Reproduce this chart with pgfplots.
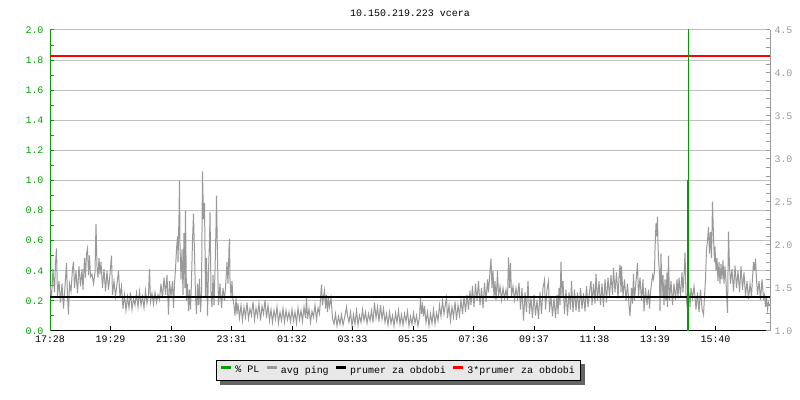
\documentclass[border=0pt]{standalone}
\usepackage{pgfplots}
\pgfplotsset{compat=1.18}
\usepackage{fontspec}
\setmainfont{Liberation Mono}
\pgfdeclarelayer{background}
\pgfsetlayers{background,main}
\definecolor{plgreen}{RGB}{0,160,0}
\definecolor{pinggray}{RGB}{153,153,153}
\definecolor{gridgray}{RGB}{192,192,192}
\definecolor{legfill}{RGB}{232,232,232}
\definecolor{shadowgray}{RGB}{100,100,100}
\definecolor{limitred}{RGB}{255,0,0}

\begin{document}
\begin{tikzpicture}[font=\fontsize{10}{12}\selectfont]
\useasboundingbox (0,0) rectangle (800bp,400bp);
\pgfplotsset{every axis/.append style={
    scale only axis, width=720bp, height=301bp,
    at={(50bp,69bp)}, anchor=south west,
    xmin=0, xmax=1440,
    tick align=inside, major tick length=4.5bp, minor tick length=4bp,
    /pgf/number format/assume math mode=true,
    yticklabel style={/pgf/number format/fixed, /pgf/number format/fixed zerofill,
        /pgf/number format/precision=1}}}

% left scale: % PL, grid, time axis
\begin{axis}[
    ymin=0, ymax=2,
    axis x line*=bottom, axis y line*=left,
    x axis line style={black, line width=1bp},
    y axis line style={plgreen, line width=1bp},
    xtick={0,121,242,363,484,605,726,847,968,1089,1210,1331},
    xticklabels={17:28,19:29,21:30,23:31,01:32,03:33,05:35,07:36,09:37,11:38,13:39,15:40},
    x tick style={black, line width=1bp},
    xticklabel style={yshift=-1.5bp},
    ytick={0,0.2,0.4,0.6,0.8,1.0,1.2,1.4,1.6,1.8,2.0},
    minor y tick num=1,
    y tick style={plgreen, line width=1bp},
    yticklabel style={text=plgreen, xshift=-3bp},
    ymajorgrids, grid style={gridgray, line width=1bp},
]
\end{axis}

% right scale: avg ping
\begin{axis}[
    ymin=1, ymax=4.5,
    axis y line*=right, axis x line=none,
    y axis line style={pinggray, line width=1bp},
    ytick={1,1.5,2,2.5,3,3.5,4,4.5},
    minor y tick num=4,
    y tick style={pinggray, line width=1bp},
    yticklabel style={text=pinggray, xshift=1bp},
    legend columns=4,
    legend cell align=left,
    legend image code/.code={\draw[line width=2.5bp] (0bp,3bp) -- (10bp,3bp);},
    legend style={name=leg, at={(0.484,-0.131)}, anchor=center, draw=black, line width=1bp,
        fill=legfill, inner sep=4bp,
        /tikz/every odd column/.append style={column sep=1bp},
        /tikz/every even column/.append style={column sep=4bp}},
]
\addlegendimage{plgreen}
\addlegendentry{\% PL}
\addplot[pinggray, line width=1bp] coordinates {
(0,1.52) (3,1.38) (6,1.72) (9,1.45) (11,1.79) (13,1.96) (15,1.40)
(18,1.58) (21,1.33) (24,1.55) (27,1.26) (30,1.52) (33,1.79) (35,1.40) (37,1.19) (39,1.55)
(42,1.46) (45,1.72) (47,1.805) (49,1.50) (52,1.70) (55,1.44) (58,1.75) (61,1.52) (64,1.72) (66,1.48)
(69,1.85) (71,1.62) (73,1.90) (75,1.96) (77,1.65) (79,1.88) (81,1.63)
(84,1.66) (87,1.55) (90,1.68) (92,2.24)
(94,1.75) (96,1.62) (98,1.85) (100,1.66) (102,1.80)
(105,1.50) (108,1.72) (111,1.46) (114,1.70) (117,1.48) (120,1.66) (123,1.875)
(125,1.42) (128,1.58) (131,1.40) (134,1.55) (137,1.70) (140,1.39) (143,1.52)
(146,1.26) (149,1.42) (152,1.24) (155,1.40) (158,1.27) (161,1.45) (164,1.25) (167,1.38) (170,1.30)
(173,1.44) (176,1.28) (179,1.46) (182,1.30) (185,1.40) (188,1.27) (191,1.47) (194,1.32) (197,1.42) (199,1.72)
(201,1.34) (204,1.44) (207,1.31) (210,1.45) (213,1.33) (216,1.42) (219,1.36)
(222,1.55) (225,1.38) (228,1.62) (231,1.42) (234,1.65) (237,1.19) (239,1.58)
(242,1.40) (245,1.58) (247,1.27) (249,1.55)
(251,1.72) (253,1.95) (255,2.10) (256,1.80) (258,2.35) (259,2.75) (260,2.00)
(262,1.60) (264,1.95) (266,1.42) (268,2.14) (270,1.50) (271,2.40)
(273,1.35) (275,1.55) (277,1.23) (279,1.48) (281,1.25) (283,1.58)
(285,2.05) (287,2.365) (289,1.90)
(291,1.40) (293,1.20) (295,1.55) (297,1.30) (299,1.61) (301,1.22) (303,1.45)
(305,2.855) (307,2.30) (309,2.49)
(311,1.40) (313,1.85) (315,1.18) (317,1.70) (319,2.05) (320,2.38)
(322,1.45) (324,1.28) (326,1.65) (328,1.30) (330,1.70)
(332,2.20) (333,2.575) (335,1.85)
(337,1.30) (340,1.55) (343,1.27) (346,1.50) (349,1.35) (352,1.60)
(354,1.80) (356,1.55) (358,1.95) (359,2.07) (360,1.60)
(362,1.40) (364,1.58) (366,1.36)
(368,1.30) (370,1.18) (372,1.38) (374,1.20) (376,1.32)
(379,1.15) (382,1.30) (385,1.12) (388,1.28) (391,1.16) (394,1.33) (397,1.14) (400,1.26) (403,1.18) (406,1.34)
(409,1.13) (412,1.27) (415,1.17) (418,1.32) (421,1.12) (424,1.29) (427,1.20) (430,1.36) (433,1.15) (436,1.30)
(439,1.12) (442,1.25) (445,1.10) (448,1.24) (451,1.14) (454,1.28) (457,1.09) (460,1.22) (463,1.12) (466,1.26)
(469,1.10) (472,1.24) (475,1.13) (478,1.22)
(481,1.11) (484,1.25) (487,1.12) (490,1.22) (493,1.09) (496,1.27) (499,1.13) (502,1.24) (505,1.11) (508,1.28)
(511,1.15) (513,1.385) (515,1.14) (518,1.26) (521,1.10) (524,1.23) (527,1.16) (530,1.30) (533,1.13) (536,1.27)
(539,1.20) (541,1.38) (543,1.54) (545,1.30) (547,1.40) (549,1.47) (551,1.26) (553,1.42) (555,1.22) (557,1.385) (559,1.28) (562,1.385)
(565,1.15) (568,1.08) (571,1.20) (574,1.06) (577,1.17) (580,1.08) (583,1.19) (586,1.07) (589,1.15)
(591,1.21) (593,1.28) (595,1.18)
(598,1.10) (601,1.22) (604,1.06) (607,1.19) (610,1.08) (613,1.24) (616,1.07) (619,1.18) (622,1.10)
(625,1.25) (628,1.12) (631,1.22) (634,1.09) (637,1.20) (640,1.12) (643,1.24) (646,1.10)
(649,1.33) (652,1.15) (655,1.28) (658,1.11) (661,1.30) (664,1.14) (667,1.26) (670,1.10)
(673,1.20) (676,1.07) (679,1.22) (682,1.09) (685,1.18) (688,1.06) (691,1.21) (694,1.10) (697,1.24) (700,1.08)
(703,1.19) (706,1.07) (709,1.20) (712,1.11) (715,1.23) (718,1.06) (721,1.17) (724,1.08) (727,1.21) (730,1.09)
(733,1.18) (736,1.06) (739,1.16)
(741,1.385) (743,1.20) (745,1.30) (747,1.17) (749,1.29)
(752,1.10) (755,1.22) (758,1.06) (761,1.20) (764,1.09) (767,1.25) (770,1.08) (773,1.21) (776,1.12)
(779,1.30) (782,1.17) (785,1.35) (788,1.20) (791,1.32) (793,1.385)
(795,1.15) (798,1.30) (801,1.12) (804,1.28) (807,1.16) (810,1.34) (813,1.13) (816,1.30) (819,1.18)
(822,1.36) (825,1.20) (828,1.40) (831,1.22) (834,1.42) (837,1.25) (840,1.47)
(842,1.30) (845,1.52) (848,1.28) (851,1.55) (854,1.35) (857,1.58) (860,1.30) (863,1.50) (866,1.27) (869,1.56) (872,1.34) (875,1.60)
(877,1.45) (880,1.70) (882,1.84) (884,1.50) (886,1.70)
(888,1.38) (890,1.58) (892,1.36) (894,1.55) (895,1.70) (897,1.40)
(900,1.52) (903,1.36) (906,1.50) (909,1.38) (912,1.48) (915,1.36)
(917,1.855) (919,1.50) (921,1.79)
(923,1.40) (926,1.52) (929,1.36) (932,1.50) (935,1.38)
(938,1.56) (941,1.25) (944,1.50) (947,1.12) (950,1.45) (953,1.22) (956,1.58) (959,1.20)
(962,1.38) (965,1.15) (968,1.42) (971,1.18) (974,1.36) (977,1.14)
(980,1.45) (983,1.20) (986,1.50) (989,1.595) (991,1.25) (994,1.48) (997,1.58) (999,1.22)
(1002,1.40) (1005,1.17) (1008,1.38) (1011,1.15) (1014,1.42) (1016,1.20)
(1018,1.50) (1020,1.30) (1022,1.805) (1024,1.40) (1026,1.58)
(1029,1.20) (1032,1.48) (1035,1.18) (1038,1.45) (1041,1.25) (1043,1.58) (1046,1.22) (1049,1.48)
(1052,1.24) (1055,1.45) (1058,1.22) (1061,1.50) (1064,1.26) (1067,1.44) (1070,1.23) (1073,1.52) (1076,1.28) (1079,1.46) (1082,1.58)
(1084,1.30) (1087,1.55) (1090,1.32) (1092,1.665) (1095,1.35) (1098,1.58) (1101,1.30) (1104,1.55) (1107,1.28) (1110,1.60) (1113,1.33)
(1116,1.62) (1119,1.40) (1122,1.65) (1125,1.42) (1127,1.735) (1130,1.45) (1133,1.68) (1136,1.38) (1138,1.62) (1140,1.77)
(1142,1.45) (1143,1.75) (1146,1.40) (1149,1.60)
(1152,1.35) (1155,1.55) (1158,1.30) (1160,1.175) (1163,1.50) (1165,1.32) (1167,1.665) (1169,1.35)
(1172,1.58) (1175,1.79) (1177,1.40) (1180,1.62) (1183,1.35) (1186,1.60) (1188,1.23) (1191,1.50) (1194,1.30) (1197,1.48)
(1199,1.26) (1201,1.45) (1203,1.55) (1205,1.65) (1207,1.60) (1209,1.70)
(1210,1.95) (1212,2.25) (1213,2.10) (1215,2.33) (1216,2.00)
(1217,1.85) (1219,1.65) (1220,1.23) (1222,1.90)
(1224,1.40) (1226,1.65) (1228,1.30) (1230,1.60) (1232,1.35) (1234,1.68) (1235,1.28) (1237,1.875)
(1239,1.35) (1242,1.58) (1245,1.30) (1248,1.55) (1251,1.36) (1254,1.60) (1256,1.38)
(1258,1.62) (1261,1.40) (1264,1.68) (1266,1.45) (1268,1.65) (1270,1.91) (1272,1.42)
(1274,1.30) (1276,1.21) (1278,1.45) (1280,1.28)
(1282,1.50) (1285,1.38) (1288,1.52) (1290,1.40)
(1292,1.25) (1295,1.45) (1298,1.22) (1301,1.48) (1304,1.26) (1307,1.19) (1309,1.40)
(1311,1.60) (1313,1.95) (1315,2.05) (1317,2.21) (1319,1.90) (1321,2.15)
(1323,1.85) (1325,2.505) (1327,2.10) (1329,1.80) (1330,1.98) (1332,1.70)
(1334,1.85) (1336,1.58) (1338,1.80) (1340,1.55) (1342,1.78) (1344,1.60) (1346,1.82)
(1348,1.55) (1350,1.75) (1352,1.58) (1355,1.21) (1356,1.70) (1357,2.155) (1359,1.75)
(1361,1.55) (1364,1.72) (1367,1.46) (1370,1.76) (1373,1.50) (1376,1.70) (1379,1.45) (1382,1.75) (1385,1.48) (1388,1.68)
(1391,1.40) (1394,1.58) (1397,1.37) (1400,1.55) (1403,1.40)
(1405,1.62) (1407,1.80) (1409,1.70) (1411,1.84) (1413,1.60)
(1415,1.42) (1418,1.58) (1421,1.36) (1424,1.60) (1427,1.38)
(1429,1.42) (1431,1.28) (1433,1.40) (1435,1.25) (1437,1.33) (1439,1.30)
};
\addlegendentry{avg ping}
\addplot[black, line width=2bp] coordinates {(0,1.40) (1440,1.40)};
\addlegendentry{prumer za obdobi}
\addplot[draw=limitred, line width=1.6bp] coordinates {(0,4.20) (1440,4.20)};
\addlegendentry{3*prumer za obdobi}
\end{axis}

% % PL series on the left scale, drawn on top
\begin{axis}[ymin=0, ymax=2, hide axis]
\addplot[plgreen, line width=2bp] coordinates {(1275,0) (1275,1.0)};
\addplot[plgreen, line width=1bp] coordinates {(1276,0) (1276,2.5)};
\end{axis}

\begin{pgfonlayer}{background}
\fill[shadowgray] ([shift={(4bp,-4bp)}]leg.south west) rectangle ([shift={(4bp,-4bp)}]leg.north east);
\end{pgfonlayer}

\node at (410bp,387bp) {10.150.219.223 vcera};
\end{tikzpicture}
\end{document}
